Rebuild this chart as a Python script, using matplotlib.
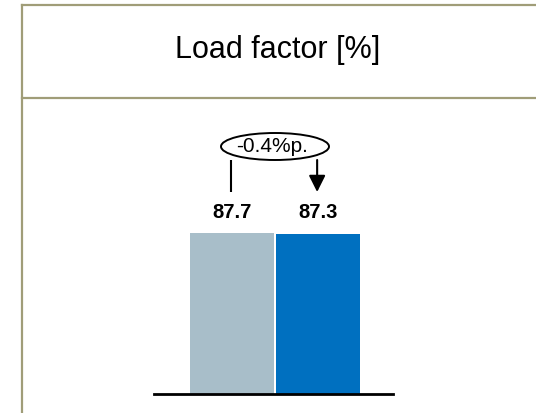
import matplotlib
matplotlib.use("Agg")
import matplotlib.pyplot as plt
from matplotlib.patches import Ellipse
from matplotlib.lines import Line2D

plt.rcParams['font.family'] = ['Liberation Sans', 'DejaVu Sans']

# Data
title = "Load factor [%]"
periods = ["Previous", "Current"]
load_factor = [87.7, 87.3]
bar_colors = ["#a8bec9", "#0070c0"]
frame_color = "#a09d78"

W, H = 536, 413
fig = plt.figure(figsize=(W / 100, H / 100), dpi=100)

# Panel frame and header drawn in figure-fraction coordinates
def px(x, y):
    return x / W, 1 - y / H

frame_lw = 1.6
for (x0, y0), (x1, y1) in [((21.5, 4.5), (W, 4.5)),
                           ((21.5, 97.5), (W, 97.5)),
                           ((21.5, 4.5), (21.5, H))]:
    (fx0, fy0), (fx1, fy1) = px(x0, y0), px(x1, y1)
    fig.add_artist(Line2D([fx0, fx1], [fy0, fy1], color=frame_color,
                          lw=frame_lw, transform=fig.transFigure))

tx, ty = px(278, 50)
fig.text(tx, ty, title, ha="center", va="center", fontsize=22, color="black")

# Bar axes
left_px, right_px, base_px, top_px = 154, 393, 393.5, 110
ax = fig.add_axes([left_px / W, (H - base_px) / H,
                   (right_px - left_px) / W, (base_px - top_px) / H])

x = [0, 1]
unit_px = 86.0
width = 84 / unit_px
bars = ax.bar(x, load_factor, width=width, color=bar_colors, zorder=2)

ax.set_xlim(-(232 - left_px) / unit_px, (right_px - 232) / unit_px)
scale = (base_px - 233) / load_factor[0]          # pixels per percent
ax.set_ylim(0, (base_px - top_px) / scale)

for s in ["top", "right", "left"]:
    ax.spines[s].set_visible(False)
ax.spines["bottom"].set_linewidth(2.0)
ax.spines["bottom"].set_color("black")
ax.set_xticks([])
ax.set_yticks([])
ax.patch.set_alpha(0)

# Value labels, placed on a common line above the taller bar
top_val = max(load_factor)
for xi, v in zip(x, load_factor):
    ax.annotate(f"{v:.1f}", xy=(xi, top_val), xytext=(0, 14.5),
                textcoords="offset points", ha="center", va="center",
                fontsize=14.5, fontweight="bold")

# Change bracket with arrow and ellipse
y_low = top_val + 41 / scale
y_high = top_val + 73 / scale
y_ell = top_val + 86.5 / scale
ax.plot([x[0] - 0.01, x[0] - 0.01], [y_low, y_high], color="black", lw=1.5,
        solid_capstyle="butt", clip_on=False)
ax.annotate("", xy=(x[1] - 0.01, y_low), xytext=(x[1] - 0.01, y_high),
            arrowprops=dict(arrowstyle="-|>,head_length=1.0,head_width=0.5",
                            color="black", lw=1.5, shrinkA=0, shrinkB=0),
            annotation_clip=False)

diff = load_factor[1] - load_factor[0]
ell = Ellipse(((x[0] + x[1]) / 2, y_ell), width=108 / unit_px,
              height=27 / scale, facecolor="white", edgecolor="black",
              lw=1.4, zorder=3, clip_on=False)
ax.add_patch(ell)
ax.text((x[0] + x[1]) / 2 - 0.03, y_ell, f"{diff:+.1f}%p.", ha="center",
        va="center", fontsize=15, zorder=4)

fig.savefig("out.png", dpi=100)
